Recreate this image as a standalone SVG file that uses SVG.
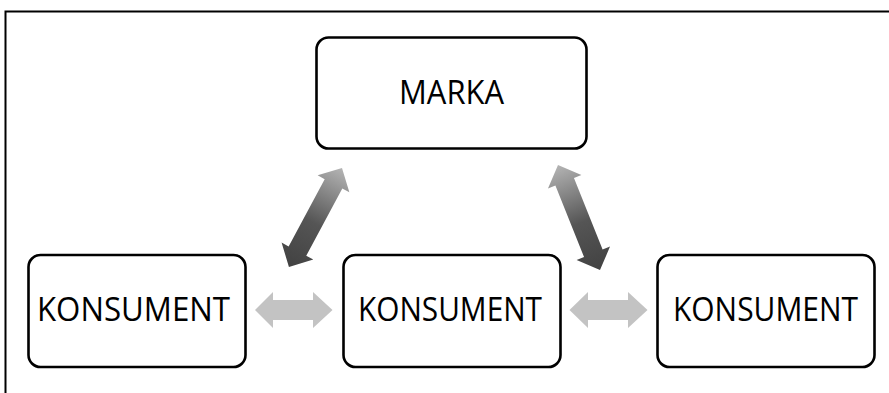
<svg xmlns="http://www.w3.org/2000/svg" width="889" height="393" viewBox="0 0 889 393">
  <style>
    .box { fill: #ffffff; stroke: #000000; stroke-width: 2.6; }
    .lbl { font-family: "Open Sans", "Liberation Sans", sans-serif; font-size: 32px; fill: #000000; }
    .frame { fill: none; stroke: #000000; stroke-width: 2; }
    .harrow { fill: #c3c3c3; }
  </style>
  <defs>
    <linearGradient id="gL" gradientUnits="userSpaceOnUse" x1="0" y1="0" x2="112" y2="0">
      <stop offset="0" stop-color="#b4b4b4"/>
      <stop offset="0.55" stop-color="#555555"/>
      <stop offset="1" stop-color="#424242"/>
    </linearGradient>
    <linearGradient id="gR" gradientUnits="userSpaceOnUse" x1="0" y1="0" x2="113" y2="0">
      <stop offset="0" stop-color="#b4b4b4"/>
      <stop offset="0.55" stop-color="#555555"/>
      <stop offset="1" stop-color="#424242"/>
    </linearGradient>
  </defs>

  <path class="frame" d="M5.5 393 V11.5 H889"/>

  <g id="connectors">
    <polygon class="harrow" points="255,310 273,292 273,300 313,300 313,292 332.5,310 313,328 313,320 273,320 273,328"/>
    <polygon class="harrow" points="569.5,310 588,292 588,300 628,300 628,292 647.5,310 628,328 628,320 588,320 588,328"/>
    <polygon fill="url(#gL)" transform="translate(342 168) rotate(118.2)" points="0,0 18,-18 18,-10 94.3,-10 94.3,-18 112.3,0 94.3,18 94.3,10 18,10 18,18"/>
    <polygon fill="url(#gR)" transform="translate(558 165) rotate(68.2)" points="0,0 18,-18 18,-10 95.1,-10 95.1,-18 113.1,0 95.1,18 95.1,10 18,10 18,18"/>
  </g>

  <g id="marka">
    <rect class="box" x="316.5" y="37.5" width="270" height="111" rx="12" ry="12"/>
    <text class="lbl" x="399" y="104" textLength="105" lengthAdjust="spacingAndGlyphs">MARKA</text>
  </g>
  <g id="konsument-left">
    <rect class="box" x="28.5" y="255" width="217" height="112" rx="12" ry="12"/>
    <text class="lbl" x="37" y="321" textLength="193" lengthAdjust="spacingAndGlyphs">KONSUMENT</text>
  </g>
  <g id="konsument-middle">
    <rect class="box" x="343.5" y="255" width="217" height="112" rx="12" ry="12"/>
    <text class="lbl" x="358" y="321" textLength="184" lengthAdjust="spacingAndGlyphs">KONSUMENT</text>
  </g>
  <g id="konsument-right">
    <rect class="box" x="657.5" y="255" width="217" height="112" rx="12" ry="12"/>
    <text class="lbl" x="673" y="321" textLength="185" lengthAdjust="spacingAndGlyphs">KONSUMENT</text>
  </g>
</svg>
